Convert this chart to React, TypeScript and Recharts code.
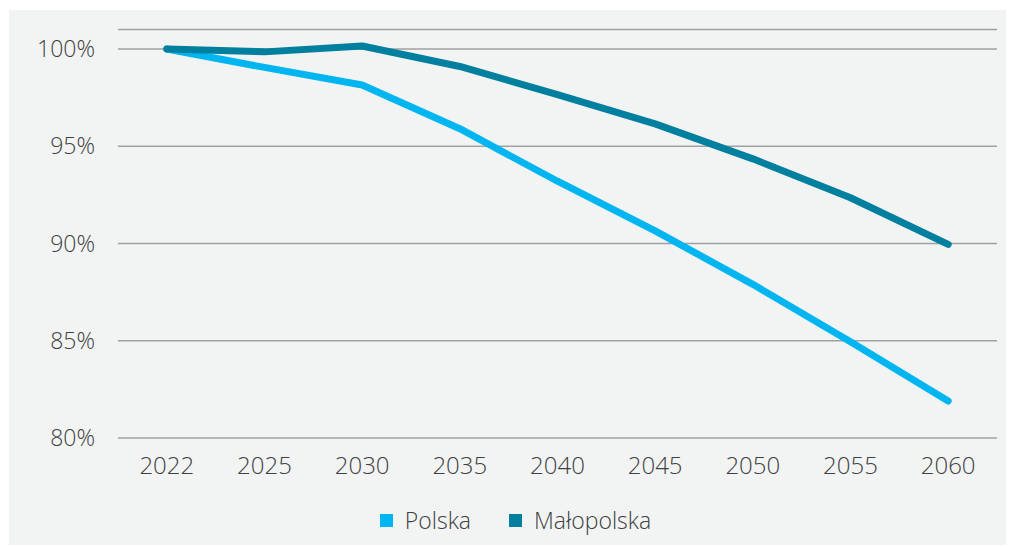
import React from "react";
import { LineChart, Line, XAxis, YAxis, CartesianGrid, Legend } from "recharts";

const years = ["2022", "2025", "2030", "2035", "2040", "2045", "2050", "2055", "2060"];
const polska = [100, 99.05, 98.15, 95.9, 93.2, 90.65, 87.9, 84.95, 81.9];
const malopolska = [100, 99.85, 100.15, 99.1, 97.65, 96.15, 94.35, 92.35, 89.95];
const yTicks = [80, 85, 90, 95, 100];
const seriesNames = ["Polska", "Małopolska"];

const data = years.map((y, i) => ({ year: y, Polska: polska[i], "Małopolska": malopolska[i] }));

const FONT = "'Open Sans', sans-serif";
const TEXT = "#404040";
const FS = 23;

const renderLegend = (props: any) => {
  const { payload } = props;
  const items = seriesNames.map((n) => payload.find((p: any) => p.value === n)).filter(Boolean);
  return (
    <div style={{ display: "flex", justifyContent: "center", alignItems: "center", height: 30, paddingLeft: 25, fontFamily: FONT, fontWeight: 300, fontSize: FS, color: TEXT }}>
      {items.map((p: any, i: number) => (
        <div key={i} style={{ display: "flex", alignItems: "center", marginRight: i === 0 ? 38 : 0 }}>
          <div style={{ width: 13, height: 13, background: p.color, marginRight: 12 }} />
          <span>{p.value}</span>
        </div>
      ))}
    </div>
  );
};

export default function App() {
  return (
    <div style={{ marginLeft: 1, marginTop: 2, width: 1005, height: 535, background: "#f2f4f4" }}>
      <LineChart width={1005} height={535} data={data} margin={{ top: 19.5, right: 17, bottom: 10, left: 0 }}>
        <CartesianGrid vertical={false} stroke="#a0a0a0" strokeWidth={1.5} />
        <XAxis
          dataKey="year"
          scale="band"
          axisLine={false}
          tickLine={false}
          tickSize={0}
          tickMargin={19}
          height={67}
          interval={0}
          tick={{ fill: TEXT, fontSize: 24, fontFamily: FONT, fontWeight: 300 }}
        />
        <YAxis
          type="number"
          domain={[80, 101]}
          ticks={yTicks}
          width={109}
          axisLine={false}
          tickLine={false}
          tickSize={0}
          tickMargin={23}
          tickFormatter={(v: number) => `${v}%`}
          tick={{ fill: TEXT, fontSize: FS, fontFamily: FONT, fontWeight: 300 }}
        />
        <Legend verticalAlign="bottom" height={30} content={renderLegend} />
        <Line dataKey="Polska" stroke="#00b5f0" strokeWidth={7} strokeLinecap="round" strokeLinejoin="round" dot={false} isAnimationActive={false} />
        <Line dataKey="Małopolska" stroke="#007f9f" strokeWidth={7} strokeLinecap="round" strokeLinejoin="round" dot={false} isAnimationActive={false} />
      </LineChart>
    </div>
  );
}
